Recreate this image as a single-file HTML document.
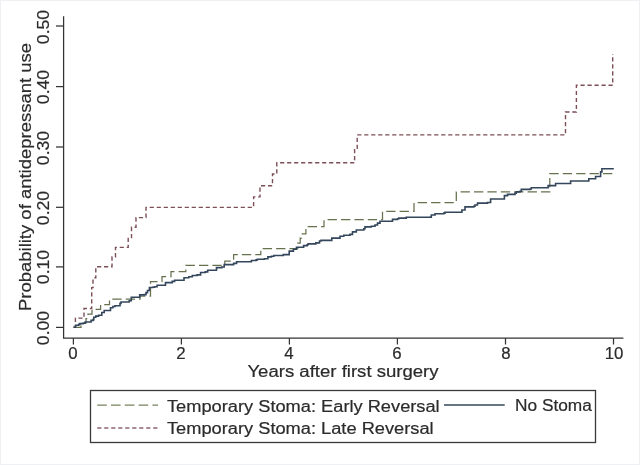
<!DOCTYPE html>
<html><head><meta charset="utf-8"><style>
html,body{margin:0;padding:0;background:#fff;}
#c{position:relative;width:640px;height:465px;overflow:hidden;filter:blur(0.3px);font-family:"Liberation Sans",sans-serif;color:#2b2b2b;}
.t{position:absolute;white-space:nowrap;font-size:16px;line-height:1;-webkit-text-stroke:0.2px #2b2b2b;}
</style></head>
<body><div id="c">
<svg width="640" height="465" viewBox="0 0 640 465" style="position:absolute;left:0;top:0"><rect x="0.5" y="0.5" width="639" height="464" fill="#fff" stroke="#eef0f3" stroke-width="1"/><path d="M63.6 16.3 V338.2 H623.4" stroke="#333" stroke-width="1.25" fill="none"/><path d="M56 327.4 H63.6" stroke="#333" stroke-width="1.25" fill="none"/><path d="M56 266.9 H63.6" stroke="#333" stroke-width="1.25" fill="none"/><path d="M56 207.3 H63.6" stroke="#333" stroke-width="1.25" fill="none"/><path d="M56 147.0 H63.6" stroke="#333" stroke-width="1.25" fill="none"/><path d="M56 86.6 H63.6" stroke="#333" stroke-width="1.25" fill="none"/><path d="M56 26.0 H63.6" stroke="#333" stroke-width="1.25" fill="none"/><path d="M73.4 338.2 V344.5" stroke="#333" stroke-width="1.25" fill="none"/><path d="M181.4 338.2 V344.5" stroke="#333" stroke-width="1.25" fill="none"/><path d="M289.4 338.2 V344.5" stroke="#333" stroke-width="1.25" fill="none"/><path d="M397.4 338.2 V344.5" stroke="#333" stroke-width="1.25" fill="none"/><path d="M505.5 338.2 V344.5" stroke="#333" stroke-width="1.25" fill="none"/><path d="M613.5 338.2 V344.5" stroke="#333" stroke-width="1.25" fill="none"/><path d="M73.6 327.3 H75.4 V327.3 H75.4 V318.1 H84.0 V318.1 H84.0 V308.5 H91.7 V308.5 H91.7 V287.6 H93.0 V287.6 H93.0 V277.9 H95.8 V277.9 H95.8 V266.7 H112.0 V266.7 H112.0 V257.0 H115.5 V257.0 H115.5 V247.4 H128.2 V247.4 H128.2 V237.6 H131.5 V237.6 H131.5 V227.3 H136.0 V227.3 H136.0 V217.6 H146.0 V217.6 H146.0 V207.4 H253.6 V207.4 H253.6 V196.9 H260.0 V196.9 H260.0 V185.7 H272.5 V185.7 H272.5 V174.0 H276.8 V174.0 H276.8 V162.8 H354.6 V162.8 H354.6 V148.4 H357.2 V148.4 H357.2 V134.9 H565.5 V134.9 H565.5 V112.0 H576.4 V112.0 H576.4 V85.2 H612.7 V85.2 H612.7 V54.0" stroke="#7d4f57" stroke-width="1.4" fill="none" stroke-dasharray="4.2 2.8"/><path d="M73.4 327.3 H81.0 V327.3 H81.0 V323.0 H86.0 V323.0 H86.0 V318.5 H88.0 V318.5 H88.0 V314.1 H92.0 V314.1 H92.0 V309.3 H100.6 V309.3 H100.6 V304.5 H109.5 V304.5 H109.5 V299.2 H140.0 V299.2 H140.0 V296.2 H150.5 V296.2 H150.5 V281.5 H162.0 V281.5 H162.0 V276.7 H171.0 V276.7 H171.0 V271.7 H185.8 V271.7 H185.8 V265.3 H224.8 V265.3 H224.8 V261.0 H233.6 V261.0 H233.6 V254.6 H260.8 V254.6 H260.8 V248.6 H297.7 V248.6 H297.7 V243.0 H300.2 V243.0 H300.2 V238.0 H301.5 V238.0 H301.5 V233.9 H305.9 V233.9 H305.9 V226.6 H324.0 V226.6 H324.0 V219.7 H382.5 V219.7 H382.5 V211.3 H414.0 V211.3 H414.0 V202.6 H456.3 V202.6 H456.3 V191.9 H549.8 V191.9 H549.8 V173.5 H612.7 V173.5" stroke="#66724e" stroke-width="1.25" fill="none" stroke-dasharray="9.3 4.1"/><path d="M73.6 327.2 H75.6 V325.2 H78.7 V324.4 H79.9 V323.6 H83.1 V323.2 H85.1 V322.0 H90.3 V322.0 H91.1 V320.4 H93.1 V319.6 H93.8 V317.3 H95.8 V316.1 H98.6 V315.3 H101.8 V312.5 H104.2 V310.5 H109.8 V310.5 H110.5 V307.7 H112.9 V306.5 H115.0 V305.7 H120.0 V303.4 H121.0 V302.0 H129.2 V300.8 H131.3 V297.2 H137.7 V297.2 H139.7 V294.9 H144.2 V294.6 H146.0 V292.6 H147.5 V290.5 H149.4 V287.5 H152.6 V287.2 H154.5 V286.8 H157.1 V285.2 H162.9 V285.2 H165.5 V282.6 H172.2 V281.4 H174.6 V280.2 H182.8 V280.2 H184.0 V277.8 H188.8 V276.7 H192.3 V275.5 H197.0 V274.9 H200.6 V272.5 H205.3 V271.9 H207.7 V270.2 H215.9 V270.2 H216.5 V267.6 H221.8 V267.0 H224.2 V264.6 H233.6 V263.4 H236.6 V261.7 H250.2 V261.7 H251.4 V260.5 H256.1 V259.9 H257.3 V259.3 H264.4 V258.7 H267.9 V256.9 H271.5 V256.3 H273.9 V255.5 H282.1 V255.5 H283.3 V254.6 H287.4 V254.6 H289.2 V251.1 H293.4 V249.3 H296.5 V247.3 H302.0 V247.3 H303.6 V245.6 H307.2 V244.7 H308.1 V243.9 H314.5 V243.9 H315.8 V242.9 H319.5 V241.0 H321.0 V240.4 H329.4 V240.4 H331.8 V238.1 H338.9 V238.1 H340.0 V236.3 H343.8 V235.3 H350.0 V234.4 H352.5 V231.9 H356.3 V230.0 H363.8 V228.8 H365.0 V226.9 H371.3 V226.3 H375.0 V225.0 H377.5 V223.1 H380.0 V221.3 H390.0 V221.3 H392.5 V219.4 H397.5 V218.8 H398.8 V218.1 H405.0 V218.1 H406.3 V217.3 H430.6 V217.1 H431.3 V215.0 H435.0 V213.8 H443.8 V213.1 H445.0 V212.3 H460.6 V212.3 H461.9 V210.0 H465.0 V206.9 H473.8 V206.3 H475.0 V205.0 H477.5 V203.1 H487.5 V202.5 H490.6 V199.0 H502.5 V199.0 H504.4 V195.6 H507.5 V194.4 H515.0 V193.1 H516.3 V191.9 H520.0 V191.3 H521.3 V189.4 H530.0 V189.0 H531.3 V187.8 H546.9 V187.8 H548.1 V185.6 H555.0 V185.6 H555.6 V183.5 H570.0 V183.5 H570.6 V181.0 H588.1 V181.0 H588.8 V178.8 H595.0 V178.8 H595.6 V176.5 H600.0 V176.5 H600.6 V171.9 H601.9 V168.8 H613.8 V168.8" stroke="#33465b" stroke-width="1.6" fill="none"/><rect x="90.5" y="390.5" width="505" height="52" fill="none" stroke="#3a3a3a" stroke-width="1.3"/><path d="M97.2 405.2 H158" stroke="#75845e" stroke-width="1.25" stroke-dasharray="9.6 4.2"/><path d="M97.2 428 H158" stroke="#906670" stroke-width="1.4" stroke-dasharray="4.2 2.8"/><path d="M444 405 H504.7" stroke="#33465b" stroke-width="1.6"/></svg>
<div class="t" style="left:43.9px;top:327.9px;font-size:16px;transform:translate(-50%,-50%) rotate(-90deg) scaleX(1.1);">0.00</div><div class="t" style="left:43.9px;top:267.4px;font-size:16px;transform:translate(-50%,-50%) rotate(-90deg) scaleX(1.1);">0.10</div><div class="t" style="left:43.9px;top:207.8px;font-size:16px;transform:translate(-50%,-50%) rotate(-90deg) scaleX(1.1);">0.20</div><div class="t" style="left:43.9px;top:147.5px;font-size:16px;transform:translate(-50%,-50%) rotate(-90deg) scaleX(1.1);">0.30</div><div class="t" style="left:43.9px;top:87.1px;font-size:16px;transform:translate(-50%,-50%) rotate(-90deg) scaleX(1.1);">0.40</div><div class="t" style="left:43.9px;top:26.5px;font-size:16px;transform:translate(-50%,-50%) rotate(-90deg) scaleX(1.1);">0.50</div><div class="t" style="left:73.4px;top:345.8px;font-size:16px;transform:translateX(-50%) scaleX(1.05);">0</div><div class="t" style="left:181.4px;top:345.8px;font-size:16px;transform:translateX(-50%) scaleX(1.05);">2</div><div class="t" style="left:289.4px;top:345.8px;font-size:16px;transform:translateX(-50%) scaleX(1.05);">4</div><div class="t" style="left:397.4px;top:345.8px;font-size:16px;transform:translateX(-50%) scaleX(1.05);">6</div><div class="t" style="left:505.5px;top:345.8px;font-size:16px;transform:translateX(-50%) scaleX(1.05);">8</div><div class="t" style="left:613.5px;top:345.8px;font-size:16px;transform:translateX(-50%) scaleX(1.05);">10</div><div class="t" style="left:343px;top:363.6px;font-size:16px;transform:translateX(-50%) scaleX(1.16);">Years after first surgery</div><div class="t" style="left:25.5px;top:176.5px;font-size:16px;transform:translate(-50%,-50%) rotate(-90deg) scaleX(1.155);">Probability of antidepressant use</div><div class="t" style="left:167px;top:398.5px;transform-origin:0 0;transform:scaleX(1.14)">Temporary Stoma: Early Reversal</div><div class="t" style="left:167px;top:421px;transform-origin:0 0;transform:scaleX(1.14)">Temporary Stoma: Late Reversal</div><div class="t" style="left:514.6px;top:398.4px;transform-origin:0 0;transform:scaleX(1.08)">No Stoma</div>
</div></body></html>
